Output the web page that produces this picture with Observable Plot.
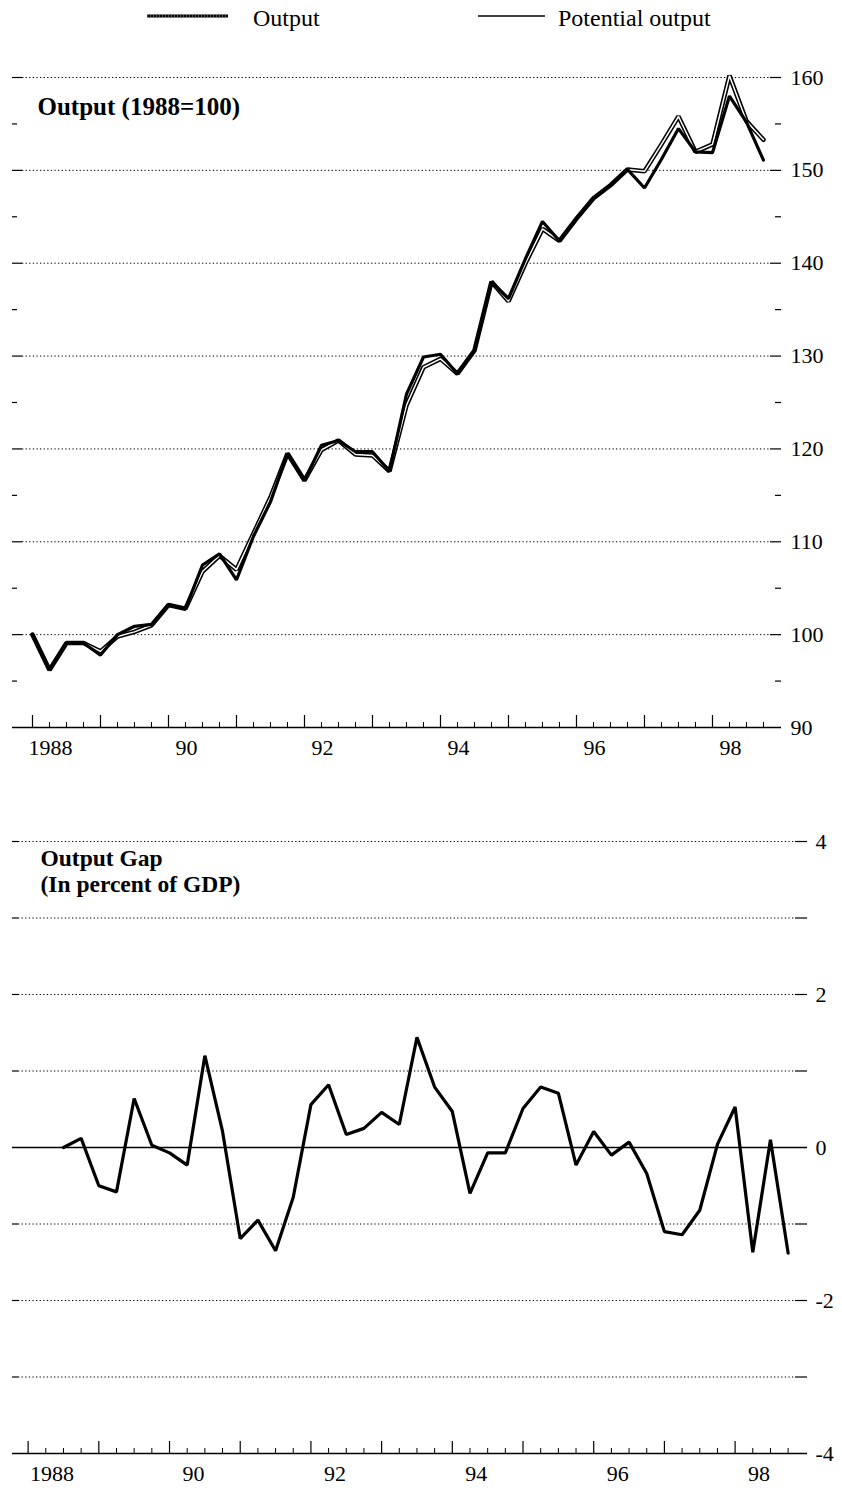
<!DOCTYPE html>
<html>
<head>
<meta charset="utf-8">
<script src="https://cdn.jsdelivr.net/npm/d3@7"></script>
<script src="https://cdn.jsdelivr.net/npm/@observablehq/plot@0.6"></script>
<style>
  body { margin: 0; background: #fff; font-family: "Liberation Serif", "DejaVu Serif", serif; }
  #legend { position: relative; width: 842px; height: 40px; font-size: 24px; color: #000; }
  #legend svg { position: absolute; left: 0; top: 0; }
  #legend span { position: absolute; top: 4px; line-height: 28px; }
  #charts svg { display: block; }
</style>
</head>
<body>
<div id="legend">
  <svg width="842" height="40">
    <line x1="147" y1="16" x2="228" y2="16" stroke="#000" stroke-width="3"></line>
    <line x1="147" y1="16" x2="228" y2="16" stroke="#fff" stroke-width="0.7" stroke-dasharray="1,2"></line>
    <line x1="478" y1="16" x2="545" y2="16" stroke="#000" stroke-width="1.5"></line>
  </svg>
  <span style="left:253px">Output</span>
  <span style="left:558px">Potential output</span>
</div>
<div id="charts"></div>
<script>
// ---- Data (quarterly) ----
const topStartYear = 1988;           // 1988Q1
const outputIndex = [100.0, 96.2, 99.1, 99.1, 97.8, 100.0, 100.9, 101.1, 103.2, 102.8,
  107.5, 108.7, 105.9, 110.6, 114.3, 119.5, 116.6, 120.4, 120.9, 119.7,
  119.7, 117.6, 125.9, 129.9, 130.2, 128.1, 130.6, 138.0, 136.2, 140.5,
  144.5, 142.4, 144.8, 147.0, 148.4, 150.1, 148.1, 151.2, 154.5, 152.0,
  151.9, 158.0, 155.2, 151.1];
const potentialIndex = [100.0, 96.2, 99.1, 99.1, 98.2, 99.8, 100.3, 101.0, 103.2, 102.8,
  106.8, 108.5, 107.0, 110.9, 114.8, 119.5, 116.6, 119.9, 120.9, 119.4,
  119.3, 117.6, 124.7, 128.8, 129.7, 128.1, 130.6, 138.0, 135.9, 140.0,
  143.7, 142.4, 144.8, 147.0, 148.4, 150.1, 149.9, 152.8, 155.8, 152.0,
  152.8, 160.2, 155.3, 153.3];
const gapStartYear = 1988.5;         // 1988Q3
const outputGap = [0.00, 0.12, -0.50, -0.58, 0.64, 0.03, -0.07, -0.23, 1.20, 0.21,
  -1.19, -0.95, -1.35, -0.65, 0.56, 0.82, 0.17, 0.25, 0.46, 0.30,
  1.44, 0.79, 0.47, -0.60, -0.07, -0.07, 0.51, 0.79, 0.71, -0.23,
  0.21, -0.10, 0.07, -0.34, -1.10, -1.14, -0.82, 0.04, 0.53, -1.37,
  0.10, -1.38];

const yearTicks = [1988, 1989, 1990, 1991, 1992, 1993, 1994, 1995, 1996, 1997, 1998];
const labelYears = [1988, 1990, 1992, 1994, 1996, 1998];
const labelText = ["1988", "90", "92", "94", "96", "98"];
const topGrid = [100, 110, 120, 130, 140, 150, 160];
const topHalf = [95, 105, 115, 125, 135, 145, 155];
const topLabels = [90, 100, 110, 120, 130, 140, 150, 160];
const gapGrid = [4, 3, 2, 1, -1, -2, -3];
const gapLabels = [4, 2, 0, -2, -4];
const topTitle = "Output (1988=100)";
const gapTitle = ["Output Gap", "(In percent of GDP)"];

const topData = outputIndex.map((v, i) => ({t: topStartYear + i / 4, output: v, potential: potentialIndex[i]}));
const gapData = outputGap.map((v, i) => ({t: gapStartYear + i / 4, gap: v}));
const quarterTicks = d3.range(44).map(i => topStartYear + i / 4).filter(t => t % 1 !== 0);

const fontStyle = {fontFamily: "'Liberation Serif', 'DejaVu Serif', serif", background: "#fff", color: "#000"};
const fmtLabel = d => labelText[labelYears.indexOf(d)];

// ---- Top chart ----
const W = 842;
const t1 = {ml: 12, mr: 61, mt: 37, mb: 58, h: 745};
const FW1 = W - t1.ml - t1.mr;
const topChart = Plot.plot({
  width: W, height: t1.h,
  marginLeft: t1.ml, marginRight: t1.mr, marginTop: t1.mt, marginBottom: t1.mb,
  style: fontStyle,
  x: {domain: [1987.706, 1999.015]},
  y: {domain: [90, 160]},
  marks: [
    Plot.ruleY(topGrid, {stroke: "#000", strokeWidth: 1, strokeDasharray: "1.3,2.3", insetLeft: 10, insetRight: 11}),
    Plot.ruleY(topGrid, {stroke: "#000", strokeWidth: 1.2, insetRight: FW1 - 10}),
    Plot.ruleY(topGrid, {stroke: "#000", strokeWidth: 1.2, insetLeft: FW1 - 11}),
    Plot.ruleY(topHalf, {stroke: "#000", strokeWidth: 1.2, insetRight: FW1 - 5}),
    Plot.ruleY(topHalf, {stroke: "#000", strokeWidth: 1.2, insetLeft: FW1 - 6}),
    Plot.ruleY([90], {stroke: "#000", strokeWidth: 1.3}),
    Plot.ruleX(yearTicks, {x: d => d, y1: 90, y2: 90, insetTop: -12, stroke: "#000", strokeWidth: 1.2}),
    Plot.ruleX(quarterTicks, {x: d => d, y1: 90, y2: 90, insetTop: -5, stroke: "#000", strokeWidth: 1}),
    Plot.axisX({ticks: labelYears, tickSize: 0, tickPadding: 12, tickFormat: fmtLabel, dx: 18, fontSize: 22, label: null}),
    Plot.axisY({anchor: "right", ticks: topLabels, tickSize: 0, tickPadding: 9, fontSize: 22, label: null}),
    Plot.text([topTitle], {text: d => d, frameAnchor: "top-left", textAnchor: "start", lineAnchor: "top", dx: 25, dy: 20, fontSize: 25, fontWeight: "bold"}),
    Plot.line(topData, {x: "t", y: "potential", stroke: "#000", strokeWidth: 4.6, strokeLinejoin: "miter"}),
    Plot.line(topData, {x: "t", y: "potential", stroke: "#fff", strokeWidth: 1.5, strokeLinejoin: "miter"}),
    Plot.line(topData, {x: "t", y: "output", stroke: "#000", strokeWidth: 3.2, strokeLinejoin: "miter"})
  ]
});

// ---- Bottom chart ----
const t2 = {ml: 12, mr: 35, mt: 56, mb: 38, h: 706};
const FW2 = W - t2.ml - t2.mr;
const gapQuarterTicks = d3.range(44).map(i => 1988 + i / 4).filter(t => t % 1 !== 0);
const bottomChart = Plot.plot({
  width: W, height: t2.h,
  marginLeft: t2.ml, marginRight: t2.mr, marginTop: t2.mt, marginBottom: t2.mb,
  style: fontStyle,
  x: {domain: [1987.779, 1999.024]},
  y: {domain: [-4, 4]},
  marks: [
    Plot.ruleY(gapGrid, {stroke: "#000", strokeWidth: 1, strokeDasharray: "1.3,2.3", insetLeft: 6, insetRight: 12}),
    Plot.ruleY(gapGrid, {stroke: "#000", strokeWidth: 1.2, insetRight: FW2 - 6}),
    Plot.ruleY(gapGrid, {stroke: "#000", strokeWidth: 1.2, insetLeft: FW2 - 12}),
    Plot.ruleY([0], {stroke: "#000", strokeWidth: 1.3}),
    Plot.ruleY([-4], {stroke: "#000", strokeWidth: 1.3}),
    Plot.ruleX(yearTicks, {x: d => d, y1: -4, y2: -4, insetTop: -12, stroke: "#000", strokeWidth: 1.2}),
    Plot.ruleX(gapQuarterTicks, {x: d => d, y1: -4, y2: -4, insetTop: -5, stroke: "#000", strokeWidth: 1}),
    Plot.axisX({ticks: labelYears, tickSize: 0, tickPadding: 12, tickFormat: fmtLabel, dx: 24, fontSize: 22, label: null}),
    Plot.axisY({anchor: "right", ticks: gapLabels, tickSize: 0, tickPadding: 8, tickFormat: d => String(d), fontSize: 22, label: null}),
    Plot.text([gapTitle[0]], {text: d => d, frameAnchor: "top-left", textAnchor: "start", lineAnchor: "top", dx: 28, dy: 8, fontSize: 23.5, fontWeight: "bold"}),
    Plot.text([gapTitle[1]], {text: d => d, frameAnchor: "top-left", textAnchor: "start", lineAnchor: "top", dx: 28, dy: 34, fontSize: 23.5, fontWeight: "bold"}),
    Plot.line(gapData, {x: "t", y: "gap", stroke: "#000", strokeWidth: 3.2, strokeLinejoin: "miter"})
  ]
});

const charts = document.getElementById("charts");
charts.appendChild(topChart);
charts.appendChild(bottomChart);
</script>
</body>
</html>
